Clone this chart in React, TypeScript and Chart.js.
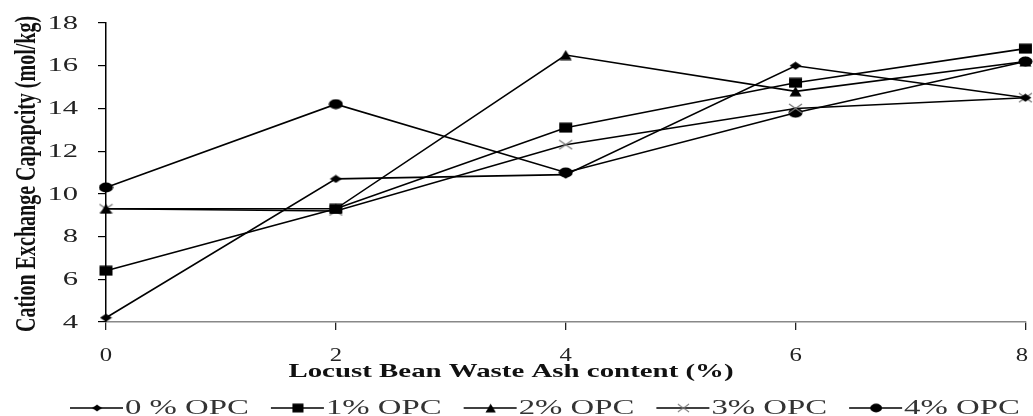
import React, { useEffect, useRef } from "react";
import { Chart, registerables } from "chart.js";

Chart.register(...registerables);

// ---- data ----
const xValues = [0, 2, 4, 6, 8];
const opc0 = [4.2, 10.7, 10.9, 16.0, 14.5];
const opc1 = [6.4, 9.3, 13.1, 15.2, 16.8];
const opc2 = [9.3, 9.3, 16.5, 14.8, 16.2];
const opc3 = [9.3, 9.2, 12.3, 14.0, 14.5];
const opc4 = [10.3, 14.2, 11.0, 13.8, 16.2];
const seriesLabels = ["0 % OPC", "1% OPC", "2% OPC", "3% OPC", "4% OPC"];
const seriesMarkers = ["diamond", "square", "triangle", "cross", "circle"];
const xTickValues = [0, 2, 4, 6, 8];
const yTickValues = [4, 6, 8, 10, 12, 14, 16, 18];
const xAxisTitle = "Locust Bean Waste Ash content (%)";
const yAxisTitle = "Cation Exchange Capapcity (mol/kg)";

const FONT = '"Liberation Serif", "Times New Roman", serif';

function makeMarker(type: string): HTMLCanvasElement {
  const c = document.createElement("canvas");
  let w = 15, h = 11;
  if (type === "diamond") { w = 13; h = 9; }
  if (type === "triangle") { w = 13; h = 11; }
  if (type === "cross") { w = 15; h = 11; }
  c.width = w; c.height = h;
  const g = c.getContext("2d")!;
  g.fillStyle = "#000";
  g.strokeStyle = "#000";
  const cx = w / 2, cy = h / 2;
  if (type === "diamond") {
    g.beginPath();
    g.moveTo(cx, 0.5); g.lineTo(w - 0.5, cy); g.lineTo(cx, h - 0.5); g.lineTo(0.5, cy);
    g.closePath(); g.fill();
  } else if (type === "square") {
    g.fillRect(1, 0.5, w - 2, h - 1);
  } else if (type === "triangle") {
    g.beginPath();
    g.moveTo(cx, 0.5); g.lineTo(w - 0.5, h - 0.5); g.lineTo(0.5, h - 0.5);
    g.closePath(); g.fill();
  } else if (type === "cross") {
    g.strokeStyle = "#777";
    g.lineWidth = 1.3;
    g.beginPath();
    g.moveTo(1, 1); g.lineTo(w - 1, h - 1);
    g.moveTo(w - 1, 1); g.lineTo(1, h - 1);
    g.stroke();
  } else {
    g.beginPath();
    g.ellipse(cx, cy, w / 2 - 0.5, h / 2 - 0.5, 0, 0, Math.PI * 2);
    g.fill();
  }
  return c;
}

const textPlugin = {
  id: "stretchText",
  afterDraw(chart: any) {
    const ctx: CanvasRenderingContext2D = chart.ctx;
    const xs = chart.scales.x;
    const ys = chart.scales.y;
    ctx.save();
    ctx.fillStyle = "#222";

    // y tick labels
    ys.ticks.forEach((t: any) => {
      const py = ys.getPixelForValue(t.value);
      ctx.save();
      ctx.translate(78, py);
      ctx.scale(1.7, 1);
      ctx.font = `18px ${FONT}`;
      ctx.textAlign = "right";
      ctx.textBaseline = "middle";
      ctx.fillText(String(t.label), 0, 1);
      ctx.restore();
    });

    // x tick labels
    xs.ticks.forEach((t: any) => {
      let px = xs.getPixelForValue(t.value);
      if (px > 1022) px = 1022;
      ctx.save();
      ctx.translate(px, 361);
      ctx.scale(1.3, 1);
      ctx.font = `19px ${FONT}`;
      ctx.textAlign = "center";
      ctx.textBaseline = "alphabetic";
      ctx.fillText(String(t.label), 0, 0);
      ctx.restore();
    });

    // x title
    ctx.save();
    ctx.fillStyle = "#111";
    ctx.translate(511, 377);
    ctx.scale(1.52, 1);
    ctx.font = `bold 19px ${FONT}`;
    ctx.textAlign = "center";
    ctx.textBaseline = "alphabetic";
    ctx.fillText(xAxisTitle, 0, 0);
    ctx.restore();

    // y title
    ctx.save();
    ctx.fillStyle = "#111";
    ctx.translate(35, 174);
    ctx.scale(1.5, 1);
    ctx.rotate(-Math.PI / 2);
    ctx.font = `bold 20px ${FONT}`;
    ctx.textAlign = "center";
    ctx.textBaseline = "alphabetic";
    ctx.fillText(yAxisTitle, 0, 0);
    ctx.restore();

    // legend
    let lx = 70;
    const ly = 408;
    chart.data.datasets.forEach((ds: any) => {
      ctx.save();
      ctx.strokeStyle = "#000";
      ctx.lineWidth = 1.5;
      ctx.beginPath();
      ctx.moveTo(lx, ly);
      ctx.lineTo(lx + 53, ly);
      ctx.stroke();
      const img = ds.pointStyle as HTMLCanvasElement;
      const sw = img.width * 0.85, sh = img.height * 0.85;
      ctx.drawImage(img, lx + 27 - sw / 2, ly - sh / 2, sw, sh);
      ctx.translate(lx + 55, 414);
      ctx.scale(1.64, 1);
      ctx.font = `20px ${FONT}`;
      ctx.fillStyle = "#333";
      ctx.textAlign = "left";
      ctx.textBaseline = "alphabetic";
      ctx.fillText(ds.label, 0, 0);
      const tw = ctx.measureText(ds.label).width * 1.64;
      ctx.restore();
      lx += 55 + tw + 22;
    });

    ctx.restore();
  },
};

export default function App() {
  const ref = useRef<HTMLCanvasElement>(null);

  useEffect(() => {
    if (!ref.current) return;
    const seriesData = [opc0, opc1, opc2, opc3, opc4];
    const datasets = seriesData.map((vals, i) => ({
      label: seriesLabels[i],
      data: xValues.map((x, j) => ({ x, y: vals[j] })),
      borderColor: "#000",
      borderWidth: 1.6,
      pointStyle: makeMarker(seriesMarkers[i]) as any,
      pointRadius: 6,
      pointHoverRadius: 6,
      fill: false,
      tension: 0,
      clip: false as any,
    }));

    const chart = new Chart(ref.current, {
      type: "line",
      data: { datasets },
      options: {
        responsive: false,
        animation: false,
        events: [],
        layout: { padding: { left: 98, top: 23, right: 7, bottom: 86 } },
        plugins: { legend: { display: false }, tooltip: { enabled: false } },
        scales: {
          x: {
            type: "linear",
            min: 0,
            max: 8,
            afterBuildTicks: (s: any) => { s.ticks = xTickValues.map((v) => ({ value: v, label: String(v) })); },
            afterFit: (s: any) => { s.height = 8; },
            ticks: { display: false },
            grid: { drawOnChartArea: false, tickLength: 8, color: "#222", lineWidth: 1.3 },
            border: { color: "#888", width: 1.5 },
          },
          y: {
            type: "linear",
            min: 4,
            max: 18,
            afterBuildTicks: (s: any) => { s.ticks = yTickValues.map((v) => ({ value: v, label: String(v) })); },
            afterFit: (s: any) => { s.width = 8; },
            ticks: { display: false },
            grid: { drawOnChartArea: false, tickLength: 8, color: "#000", lineWidth: 1.2 },
            border: { color: "#000", width: 1.5 },
          },
        },
      },
      plugins: [textPlugin],
    });
    return () => chart.destroy();
  }, []);

  return (
    <div style={{ position: "absolute", left: 0, top: 0, width: 1033, height: 416, background: "#fff" }}>
      <canvas ref={ref} width={1033} height={416} style={{ display: "block" }} />
    </div>
  );
}
